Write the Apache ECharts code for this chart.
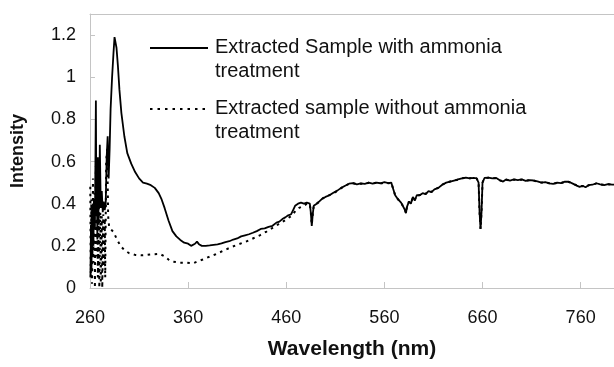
<!DOCTYPE html>
<html>
<head>
<meta charset="utf-8">
<script src="https://cdn.jsdelivr.net/npm/echarts@6/dist/echarts.min.js"></script>
<style>html,body{margin:0;padding:0;background:#fff}#c{width:614px;height:367px}</style>
</head>
<body>
<div id="c"></div>
<script>
// ---- data ----
const seriesNames = ['Extracted Sample with ammonia\ntreatment', 'Extracted sample without ammonia\ntreatment'];
const xTickValues = [260, 360, 460, 560, 660, 760];
const yTickValues = [0, 0.2, 0.4, 0.6, 0.8, 1, 1.2];

const wavelengthWith = [260.5,261,261.5,262,262.5,263,263.5,264,265,266,266.5,267,267.5,268,268.5,269,269.5,270,271,272,273,274,275,276,277,278,279,280,281,282.5,284,285,286,287,288.5,290,292,295,298,302,306,310,314,318,322,326,330,333,336,340,344,348,352,356,360,363,365,367,369,371,374,378,382,386,390,394,398,402,406,410,414,418,422,426,430,434,438,442,446,450,453,456,459,462,465,467,469,472,475,478,481,484,485,486,487,488,491,494,497,500,504,508,512,516,520,524,528,532,536,540,544,548,552,556,560,564,567,569,571,574,577,579,581,582,583,585,587,589,591,593,596,599,602,605,608,611,615,619,623,627,631,635,639,643,647,651,654,656,657,658,659,660,662,666,670,674,678,681,684,688,692,696,700,704,708,712,716,720,724,728,732,736,740,744,748,752,756,759,762,765,768,772,776,780,784,788,792,794];
const intensityWith = [0.05,0.3,0.08,0.38,0.15,0.4,0.2,0.42,0.28,0.89,0.35,0.55,0.23,0.62,0.3,0.5,0.38,0.68,0.38,0.46,0.36,0.41,0.37,0.4,0.62,0.72,0.52,0.66,0.85,1.0,1.12,1.19,1.19,1.14,1.05,0.94,0.83,0.72,0.64,0.59,0.55,0.52,0.5,0.495,0.488,0.475,0.45,0.42,0.38,0.32,0.27,0.245,0.228,0.215,0.21,0.2,0.195,0.21,0.22,0.208,0.2,0.2,0.202,0.205,0.207,0.212,0.218,0.222,0.23,0.235,0.245,0.25,0.255,0.262,0.27,0.28,0.283,0.29,0.295,0.31,0.315,0.327,0.335,0.345,0.35,0.37,0.39,0.4,0.405,0.4,0.405,0.4,0.36,0.295,0.35,0.39,0.4,0.412,0.425,0.432,0.44,0.452,0.462,0.475,0.485,0.495,0.498,0.492,0.496,0.494,0.5,0.495,0.5,0.497,0.502,0.498,0.5,0.47,0.44,0.42,0.405,0.4,0.37,0.355,0.385,0.41,0.4,0.432,0.415,0.44,0.44,0.45,0.445,0.46,0.455,0.468,0.475,0.49,0.5,0.505,0.51,0.515,0.52,0.524,0.52,0.522,0.52,0.5,0.36,0.28,0.36,0.5,0.522,0.524,0.52,0.522,0.51,0.505,0.515,0.51,0.515,0.512,0.515,0.508,0.512,0.51,0.506,0.5,0.502,0.496,0.494,0.5,0.498,0.505,0.504,0.495,0.486,0.48,0.485,0.478,0.488,0.49,0.497,0.492,0.488,0.493,0.49,0.49];

const wavelengthWithout = [260.3,260.8,261.5,262,263,263.5,264.5,265,266,266.5,267.5,268,269,269.5,270.5,271,272,272.5,273.5,274,275,275.5,276.5,277.5,278.5,279.5,281,284,287,291,295,300,306,312,318,324,331,336,340,344,352,358,365,370,375,380,388,395,402,410,419,426,433,440,446,453,460,466,470,473,478,481,484,485,486,487,488,491,494,497,500,504,508,512,516,520,524,528,532,536,540,544,548,552,556,560,564,567,569,571,574,577,579,581,582,583,585,587,589,591,593,596,599,602,605,608,611,615,619,623,627,631,635,639,643,647,651,654,656,657,658,659,660,662,666,670,674,678,681,684,688,692,696,700,704,708,712,716,720,724,728,732,736,740,744,748,752,756,759,762,765,768,772,776,780,784,788,792,794];
const intensityWithout = [0.48,0.05,0.42,0.02,0.52,0.12,0.45,0.0,0.58,0.15,0.48,0.05,0.4,0.0,0.36,0.02,0.34,0.0,0.35,0.1,0.33,0.05,0.6,0.66,0.34,0.29,0.28,0.265,0.235,0.2,0.18,0.165,0.157,0.155,0.157,0.16,0.162,0.15,0.135,0.125,0.12,0.12,0.117,0.127,0.135,0.145,0.16,0.175,0.19,0.205,0.22,0.235,0.25,0.268,0.285,0.305,0.325,0.345,0.37,0.38,0.39,0.4,0.398,0.36,0.3,0.35,0.39,0.4,0.41,0.424,0.432,0.441,0.45,0.46,0.474,0.486,0.494,0.497,0.493,0.495,0.495,0.499,0.496,0.5,0.496,0.5,0.497,0.5,0.47,0.44,0.42,0.405,0.4,0.37,0.355,0.385,0.41,0.4,0.43,0.417,0.44,0.441,0.449,0.446,0.46,0.456,0.467,0.476,0.49,0.5,0.505,0.51,0.514,0.52,0.523,0.521,0.522,0.52,0.5,0.36,0.28,0.36,0.5,0.522,0.523,0.52,0.521,0.51,0.506,0.514,0.51,0.514,0.512,0.514,0.509,0.511,0.51,0.505,0.5,0.501,0.497,0.495,0.499,0.498,0.504,0.503,0.495,0.487,0.481,0.484,0.479,0.487,0.49,0.496,0.492,0.489,0.492,0.49,0.49];

// ---- chart ----
const FONT = '"Liberation Sans", Arial, sans-serif';
const pairs = (xs, ys) => xs.map((x, i) => [x, ys[i]]);
const AXIS_GRAY = '#c4c4c4';

const chart = echarts.init(document.getElementById('c'), null, {renderer: 'canvas'});
chart.setOption({
  animation: false,
  backgroundColor: '#fff',
  grid: {left: 90, top: 14, right: -2, bottom: 79},
  xAxis: [{
    type: 'value', min: 260, max: 794,
    name: 'Wavelength (nm)', nameLocation: 'middle', nameGap: 51,
    nameTextStyle: {fontFamily: FONT, fontSize: 21, fontWeight: 'bold', color: '#111'},
    axisLine: {show: true, lineStyle: {color: AXIS_GRAY, width: 1}},
    axisTick: {show: true, inside: true, length: 6, customValues: xTickValues, lineStyle: {color: AXIS_GRAY}},
    axisLabel: {customValues: xTickValues, margin: 21, fontFamily: FONT, fontSize: 18, color: '#111'},
    splitLine: {show: false}
  }, {
    type: 'value', position: 'top', min: 260, max: 794,
    axisLine: {show: true, lineStyle: {color: AXIS_GRAY, width: 1}},
    axisTick: {show: false}, axisLabel: {show: false}, splitLine: {show: false}
  }],
  yAxis: {
    type: 'value', min: 0, max: 1.3,
    name: 'Intensity', nameLocation: 'middle', nameGap: 63, nameRotate: 90,
    nameTextStyle: {fontFamily: FONT, fontSize: 18, fontWeight: 'bold', color: '#111'},
    axisLine: {show: true, lineStyle: {color: AXIS_GRAY, width: 1}},
    axisTick: {show: true, inside: true, length: 5, customValues: yTickValues, lineStyle: {color: AXIS_GRAY}},
    axisLabel: {customValues: yTickValues, margin: 14, fontFamily: FONT, fontSize: 18, color: '#111'},
    splitLine: {show: false}
  },
  series: [{
    name: seriesNames[1], type: 'line', showSymbol: false, symbol: 'none',
    data: pairs(wavelengthWithout, intensityWithout),
    lineStyle: {color: '#000', width: 2, type: [2.5, 4.5]}, z: 2
  }, {
    name: seriesNames[0], type: 'line', showSymbol: false, symbol: 'none',
    data: pairs(wavelengthWith, intensityWith),
    lineStyle: {color: '#000', width: 1.8, type: 'solid'}, z: 3
  }],
  graphic: [
    {type: 'line', shape: {x1: 150, y1: 48, x2: 208, y2: 48}, style: {stroke: '#000', lineWidth: 1.8}},
    {type: 'text', left: 215, top: 35, style: {text: seriesNames[0], font: '20px ' + FONT, fill: '#111', lineHeight: 24}},
    {type: 'line', shape: {x1: 150, y1: 109, x2: 208, y2: 109}, style: {stroke: '#000', lineWidth: 2, lineDash: [2.5, 5]}},
    {type: 'text', left: 215, top: 96, style: {text: seriesNames[1], font: '20px ' + FONT, fill: '#111', lineHeight: 24}}
  ]
});
</script>
</body>
</html>
